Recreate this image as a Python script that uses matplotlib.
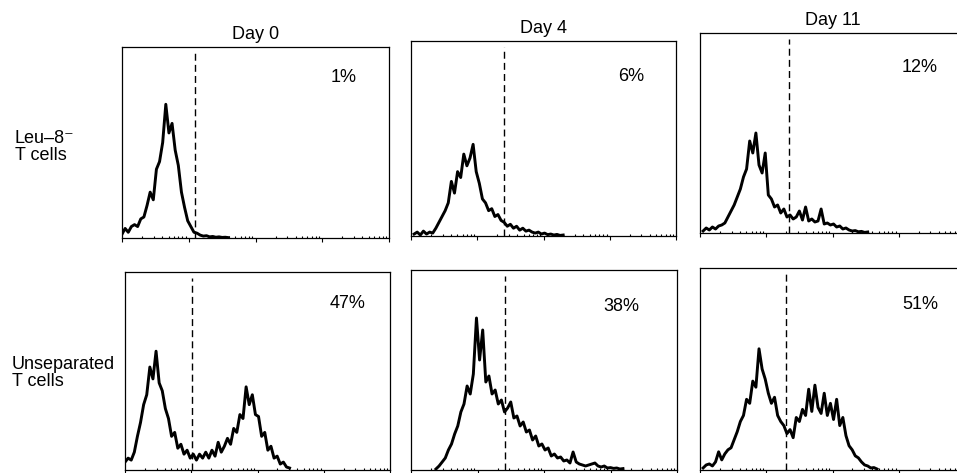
import numpy as np
import matplotlib
matplotlib.use('Agg')
import matplotlib.pyplot as plt

plt.rcParams['font.family'] = ['Liberation Sans', 'DejaVu Sans']

days = ['Day 0', 'Day 4', 'Day 11']
rows = ['Leu\u20138\u207b\nT cells', 'Unseparated\nT cells']
percents = [['1%', '6%', '12%'], ['47%', '38%', '51%']]

# histogram counts, one value every 3 channels (256 channels = 4 decades)
ch_step = 3
leu_day0_start = 0
leu_day0 = [2, 5, 3, 6, 7, 6, 10, 11, 17, 24, 20, 36, 40, 50, 70, 55, 60, 46,
            38, 24, 16, 9, 6, 3, 2.5, 1.5, 1, 1.2, 0.6, 0.8, 0.4, 0.6, 0.3, 0.4, 0.2]
leu_day4_start = 3
leu_day4 = [1, 2, 0.5, 2.5, 1, 2, 1.5, 4, 7, 10, 13, 17, 28, 22, 33, 30, 42, 36,
            40, 47, 33, 27, 19, 17, 13, 14, 10, 11, 8, 7, 5, 6, 4, 5, 3, 4, 2.5,
            3, 2, 1.5, 2, 1, 1.5, 0.7, 1, 0.5, 0.8, 0.3, 0.5]
leu_day11_start = 3
leu_day11 = [1, 2.5, 1.5, 3, 2, 3.5, 4, 5, 8, 11, 14, 18, 22, 28, 32, 46, 40, 50,
             34, 30, 40, 19, 17, 13, 14, 10, 12, 8, 9, 7, 8, 11, 6.5, 13, 6, 7,
             5.5, 6, 12, 4.5, 5, 4, 4.5, 3, 3.5, 2, 2.5, 1.5, 1, 1.2, 0.6, 0.8,
             0.3, 0.5]
uns_day0_start = 0
uns_day0 = [4, 6, 5, 9, 17, 24, 33, 38, 52, 46, 60, 44, 40, 31, 26, 17, 19, 11,
            13, 8, 10, 6, 8, 5, 8, 6, 9, 6, 10, 7, 14, 9, 12, 16, 13, 21, 19, 28,
            26, 42, 33, 38, 28, 27, 17, 19, 10, 12, 6, 7, 3, 4, 1.5, 1]
uns_day4_start = 24
uns_day4 = [0.5, 2, 4, 6, 10, 13, 18, 22, 29, 33, 42, 38, 48, 76, 55, 70, 44, 47,
            38, 40, 33, 35, 29, 31, 34, 26, 27, 22, 24, 19, 20, 15, 17, 12, 13,
            10, 11, 7, 8, 6, 6.5, 4.5, 5, 3.5, 9, 4, 3, 2.5, 2, 2.5, 3, 3.5, 2,
            1.5, 2, 1, 1.2, 0.8, 1, 0.5, 0.7]
uns_day11_start = 3
uns_day11 = [1, 2.5, 3, 2, 4, 9, 5, 8, 10, 11, 15, 19, 24, 27, 35, 33, 44, 41,
             60, 50, 45, 38, 33, 36, 27, 24, 22, 18, 20, 16, 26, 24, 30, 27, 40,
             29, 42, 31, 28, 38, 27, 33, 25, 35, 22, 26, 17, 12, 10, 7, 6, 4,
             2.5, 2, 1, 1.2, 0.5]

hist_counts = [[leu_day0, leu_day4, leu_day11], [uns_day0, uns_day4, uns_day11]]
hist_start = [[leu_day0_start, leu_day4_start, leu_day11_start],
              [uns_day0_start, uns_day4_start, uns_day11_start]]
# cursor (dashed marker) channel for each panel
marker_ch = [[70, 90, 86], [65, 90, 83]]

W, H = 957, 473
fig = plt.figure(figsize=(W / 100, H / 100), dpi=100)

# panel boxes in pixels: left, right, top, bottom
boxes = [[(122, 389, 47, 238), (411, 676, 41, 236), (700, 965, 33, 233)],
         [(125, 390, 272, 470), (411, 677, 270, 470), (700, 965, 268, 470)]]
pct_pos = [[(0.83, 0.84), (0.83, 0.82), (0.83, 0.83)],
           [(0.84, 0.84), (0.79, 0.82), (0.83, 0.82)]]

for r in range(2):
    for c in range(3):
        l, rt, t, b = boxes[r][c]
        ax = fig.add_axes([l / W, 1 - b / H, (rt - l) / W, (b - t) / H])
        counts = np.array(hist_counts[r][c])
        ch = hist_start[r][c] + ch_step * np.arange(len(counts))
        ax.plot(10 ** (ch / 64), counts, color='black', lw=2.1)
        ax.axvline(10 ** (marker_ch[r][c] / 64), ymin=0, ymax=0.97,
                   color='black', lw=1.0, ls=(0, (5, 3)))
        ax.set_xscale('log')
        ax.set_xlim(1, 1e4)
        ax.set_ylim(0, 100)
        ax.set_yticks([])
        ax.tick_params(axis='x', which='major', direction='out', length=3,
                       width=0.8, labelbottom=False)
        ax.tick_params(axis='x', which='minor', direction='in', length=1.5,
                       width=0.8)
        for s in ax.spines.values():
            s.set_linewidth(0.9)
        px, py = pct_pos[r][c]
        ax.text(px, py, percents[r][c], transform=ax.transAxes,
                ha='center', va='center', fontsize=13)
        if r == 0:
            ax.set_title(days[c], fontsize=13, pad=6)

fig.text(15 / W, 1 - 146.5 / H, rows[0], ha='left', va='center',
         fontsize=13, linespacing=1.0)
fig.text(12 / W, 1 - 372.5 / H, rows[1], ha='left', va='center',
         fontsize=13, linespacing=1.0)

fig.savefig('out.png', dpi=100)
